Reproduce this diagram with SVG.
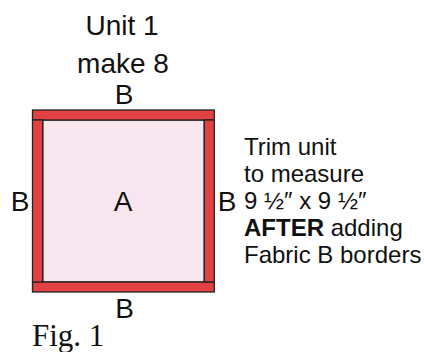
<svg xmlns="http://www.w3.org/2000/svg" width="424" height="352" viewBox="0 0 424 352">
<style>
.t{font-family:"Liberation Sans",Arial,sans-serif;fill:#111}
.lbl{font-size:28px;text-anchor:middle}
.r{fill:#E24141;stroke:#222;stroke-width:1.3}
.p{fill:#F7E6EE;stroke:#222;stroke-width:1.3}
.n{font-size:24px}
</style>
<rect width="424" height="352" fill="#fff"/>
<g id="title">
<text class="t lbl" x="122" y="35" font-size="28">Unit 1</text>
<text class="t lbl" x="123" y="73" font-size="28">make 8</text>
</g>
<g id="unit">
<rect class="p" x="42.7" y="120" width="161.6" height="162"/>
<rect class="r" x="32.5" y="110" width="181.8" height="10"/>
<rect class="r" x="32.5" y="282" width="181.8" height="10"/>
<rect class="r" x="32.5" y="120" width="10.2" height="162"/>
<rect class="r" x="204.3" y="120" width="10" height="162"/>
</g>
<g id="labels">
<text class="t lbl" x="124" y="104">B</text>
<text class="t lbl" x="123" y="211">A</text>
<text class="t lbl" x="20" y="211">B</text>
<text class="t lbl" x="227" y="211">B</text>
<text class="t lbl" x="124.5" y="318">B</text>
</g>
<g id="note">
<text class="t n" x="244" y="155">Trim unit</text>
<text class="t n" x="244" y="182">to measure</text>
<text class="t n" x="244" y="209">9 ½″ x 9 ½″</text>
<text class="t n" x="244" y="236"><tspan font-weight="bold">AFTER</tspan> adding</text>
<text class="t n" x="244" y="263">Fabric B borders</text>
</g>
<text x="32" y="346" font-family="'Liberation Serif','Times New Roman',serif" font-size="31" fill="#111">Fig. 1</text>
</svg>
